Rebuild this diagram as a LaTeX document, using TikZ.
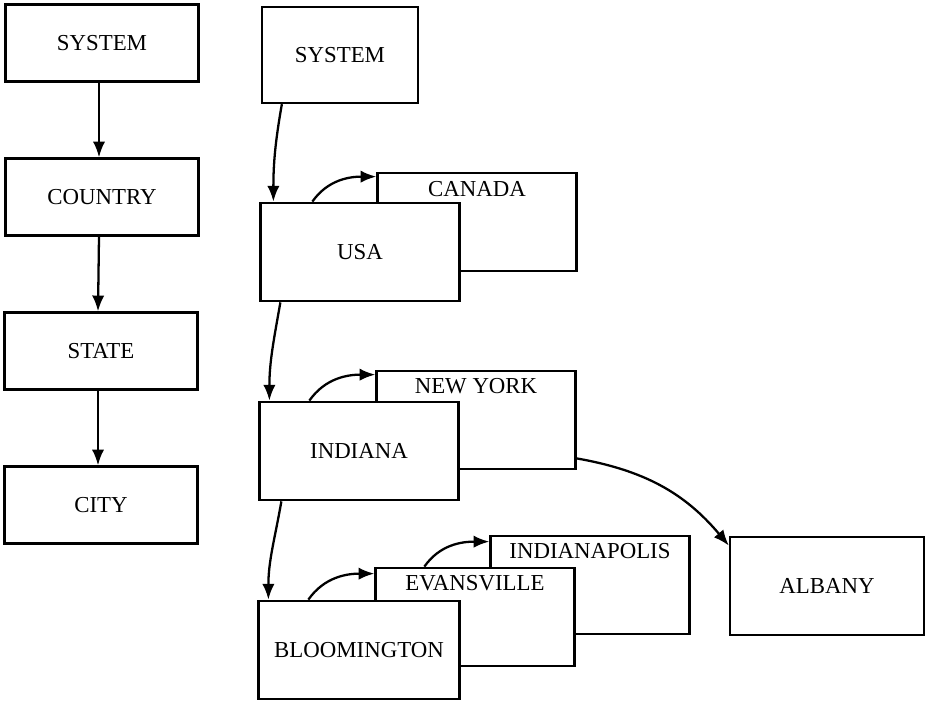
\documentclass[tikz,border=0pt]{standalone}
\usepackage{fontspec}
\setmainfont{Liberation Serif}
\usepackage{tikz}
\usetikzlibrary{arrows, arrows.meta}

\begin{document}
\begin{tikzpicture}[
                x=0.02cm, y=-0.02cm, % one unit per pixel, origin at the top left
                >={Latex[length=9pt, width=7pt]}, line width=1.3pt,
                every node/.style={font=\fontsize{13}{15}\selectfont},
                levelbox/.style={draw, fill=white, minimum width=3.86cm, minimum height=1.54cm}, % left column
                itembox/.style={draw, fill=white, minimum width=3.98cm, minimum height=1.97cm}, % right side
                toptext/.style={inner sep=0pt} % name written near the top of a box
                ]
                \useasboundingbox (0,0) rectangle (926,701);

                % the levels
                \node[levelbox] (system) at (102,43) {SYSTEM};
                \node[levelbox] (country) at (102,197) {COUNTRY};
                \node[levelbox] (state) at (101,351) {STATE};
                \node[levelbox] (city) at (101,505) {CITY};
                \draw[->] ([xshift=-0.06cm]system.south) -- ([xshift=-0.06cm]country.north);
                \draw[->] ([xshift=-0.06cm]country.south) -- ([xshift=-0.06cm]state.north);
                \draw[->] ([xshift=-0.06cm]state.south) -- ([xshift=-0.06cm]city.north);

                % the records
                \node[itembox, minimum width=3.12cm, minimum height=1.92cm] (sys) at (340,55) {SYSTEM};
                \node[itembox] (canada) at (477,222) {};
                \node[toptext] (canadaT) at ([yshift=-0.34cm]canada.north) {CANADA};
                \node[itembox] (usa) at (360,252) {USA};
                \node[itembox] (newyork) at (476,420) {};
                \node[toptext] (newyorkT) at ([yshift=-0.32cm]newyork.north) {NEW YORK};
                \node[itembox] (indiana) at (359,451) {INDIANA};
                \node[itembox] (indianapolis) at (590,585) {};
                \node[toptext] (indianapolisT) at ([yshift=-0.32cm]indianapolis.north) {INDIANAPOLIS};
                \node[itembox] (evansville) at (475,617) {};
                \node[toptext] (evansvilleT) at ([yshift=-0.32cm]evansville.north) {EVANSVILLE};
                \node[itembox, minimum width=4.02cm] (bloomington) at (359,650) {BLOOMINGTON};
                \node[itembox, minimum width=3.88cm] (albany) at (827,586) {ALBANY};

                % down a level
                \draw[->] ([xshift=0.42cm]sys.south west) to[out=-100, in=90] ([xshift=0.28cm]usa.north west);
                \draw[->] ([xshift=0.42cm]usa.south west) to[out=-100, in=90] ([xshift=0.22cm]indiana.north west);
                \draw[->] ([xshift=0.46cm]indiana.south west) to[out=-100, in=90] ([xshift=0.22cm]bloomington.north west);

                % along a level
                \draw[->] ([xshift=1.06cm]usa.north west) to[out=55, in=180] ([yshift=-0.1cm]canada.north west);
                \draw[->] ([xshift=1.02cm]indiana.north west) to[out=55, in=180] ([yshift=-0.1cm]newyork.north west);
                \draw[->] ([xshift=1.02cm]bloomington.north west) to[out=55, in=180] ([yshift=-0.14cm]evansville.north west);
                \draw[->] ([xshift=1.0cm]evansville.north west) to[out=55, in=180] ([yshift=-0.14cm]indianapolis.north west);
                \draw[->] ([yshift=0.24cm]newyork.south east) to[out=-10, in=130] ([yshift=-0.2cm]albany.north west);
            \end{tikzpicture}
\end{document}
